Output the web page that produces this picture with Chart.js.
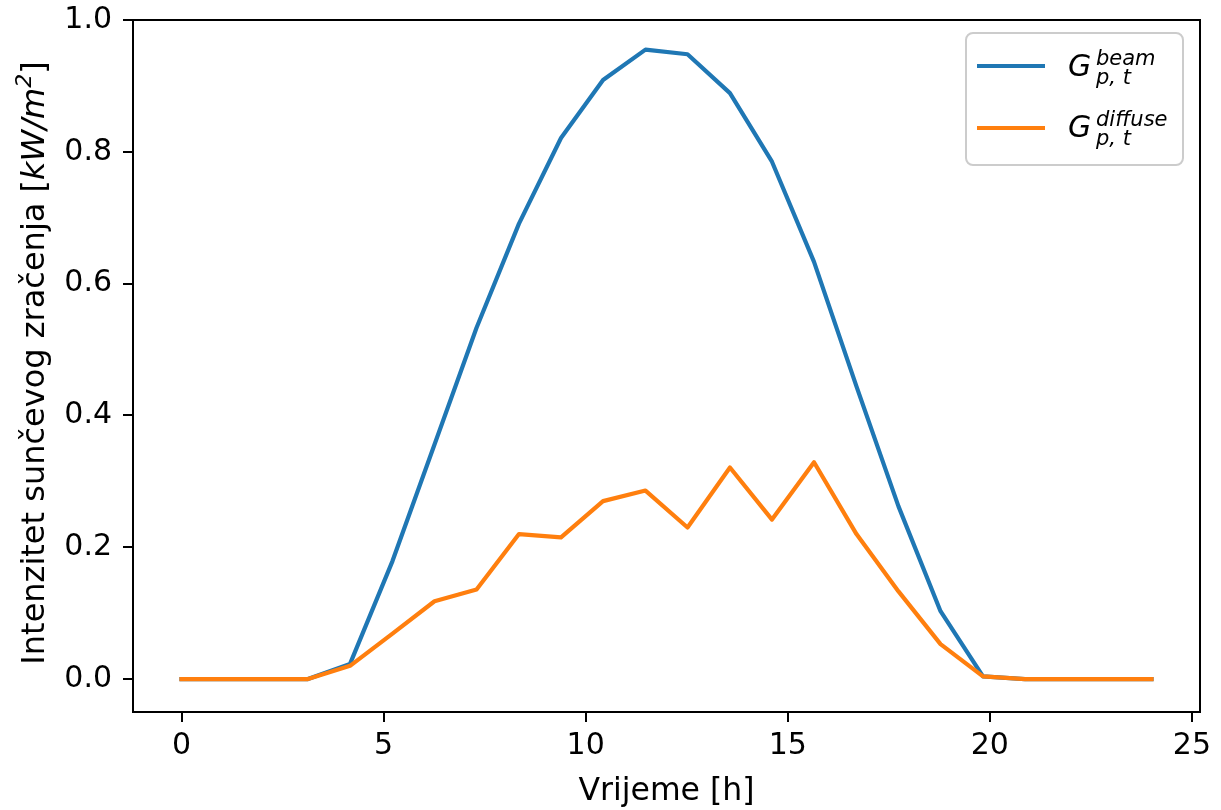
<!DOCTYPE html>
<html>
<head>
<meta charset="utf-8">
<script src="https://cdn.jsdelivr.net/npm/chart.js@4/dist/chart.umd.min.js"></script>
<style>
  body { margin: 0; background: #fff; }
  canvas { display: block; }
</style>
</head>
<body>
<canvas id="irradiance" width="1221" height="810"></canvas>
<script>
// hours of the day (24 samples from 0 to 24 h)
var hours = [0, 1.04, 2.09, 3.13, 4.17, 5.22, 6.26, 7.30, 8.35, 9.39, 10.43, 11.48,
             12.52, 13.57, 14.61, 15.65, 16.70, 17.74, 18.78, 19.83, 20.87, 21.91, 22.96, 24];
var beam = [0, 0, 0, 0, 0.023, 0.179, 0.356, 0.533, 0.691, 0.821, 0.909, 0.955,
            0.948, 0.889, 0.785, 0.633, 0.444, 0.262, 0.103, 0.004, 0, 0, 0, 0];
var diffuse = [0, 0, 0, 0, 0.020, 0.069, 0.118, 0.136, 0.220, 0.215, 0.270, 0.286,
               0.230, 0.321, 0.242, 0.329, 0.220, 0.133, 0.053, 0.004, 0, 0, 0, 0];
var xTicks = [0, 5, 10, 15, 20, 25];
var yTicks = [0, 0.2, 0.4, 0.6, 0.8, 1.0];

var FONT = "'DejaVu Sans', sans-serif";
var BLUE = '#1f77b4';
var ORANGE = '#ff7f0e';

function toPoints(ys) {
  return ys.map(function (y, i) { return { x: hours[i], y: y }; });
}

// mixed-style text pieces (for math-like labels)
function drawPieces(ctx, pieces, x, y) {
  pieces.forEach(function (p) {
    ctx.font = p.font;
    ctx.fillText(p.text, x, y + (p.dy || 0));
    x += ctx.measureText(p.text).width;
  });
  return x;
}

var decorations = {
  id: 'decorations',
  afterDraw: function (chart) {
    var ctx = chart.ctx;
    var area = chart.chartArea;
    ctx.save();

    // frame
    ctx.strokeStyle = '#000';
    ctx.lineWidth = 2;
    ctx.strokeRect(area.left, area.top, area.right - area.left, area.bottom - area.top);

    ctx.fillStyle = '#000';
    ctx.textBaseline = 'alphabetic';

    // x title
    ctx.font = '31.5px ' + FONT;
    ctx.textAlign = 'center';
    ctx.fillText('Vrijeme [h]', (area.left + area.right) / 2, 800);

    // y title (rotated, with italic unit and superscript)
    var reg = '32px ' + FONT;
    var ita = 'italic 32px ' + FONT;
    var sup = 'italic 22px ' + FONT;
    var pieces = [
      { text: 'Intenzitet sunčevog zračenja [', font: reg },
      { text: 'kW/m', font: ita },
      { text: '2', font: sup, dy: -13 },
      { text: ']', font: reg }
    ];
    var total = 0;
    pieces.forEach(function (p) { ctx.font = p.font; total += ctx.measureText(p.text).width; });
    ctx.translate(44, 363);
    ctx.rotate(-Math.PI / 2);
    ctx.textAlign = 'left';
    drawPieces(ctx, pieces, -total / 2, 0);
    ctx.restore();

    // legend
    ctx.save();
    var bx = 966, by = 33, bw = 217, bh = 132, r = 7;
    ctx.beginPath();
    ctx.moveTo(bx + r, by);
    ctx.arcTo(bx + bw, by, bx + bw, by + bh, r);
    ctx.arcTo(bx + bw, by + bh, bx, by + bh, r);
    ctx.arcTo(bx, by + bh, bx, by, r);
    ctx.arcTo(bx, by, bx + bw, by, r);
    ctx.closePath();
    ctx.fillStyle = 'rgba(255,255,255,0.8)';
    ctx.fill();
    ctx.strokeStyle = '#cccccc';
    ctx.lineWidth = 2;
    ctx.stroke();

    var entries = [
      { color: BLUE, sup: 'beam', lineY: 66, base: 76 },
      { color: ORANGE, sup: 'diffuse', lineY: 128, base: 137 }
    ];
    entries.forEach(function (e) {
      ctx.strokeStyle = e.color;
      ctx.lineWidth = 4.2;
      ctx.lineCap = 'butt';
      ctx.beginPath();
      ctx.moveTo(977, e.lineY);
      ctx.lineTo(1045, e.lineY);
      ctx.stroke();

      ctx.fillStyle = '#000';
      ctx.textAlign = 'left';
      ctx.font = 'italic 30px ' + FONT;
      ctx.fillText('G', 1068, e.base);
      ctx.font = 'italic 21px ' + FONT;
      ctx.fillText(e.sup, 1096, e.base - 11);
      ctx.fillText('p, t', 1096, e.base + 8);
    });
    ctx.restore();
  }
};

document.addEventListener('DOMContentLoaded', function () {
  var ctx = document.getElementById('irradiance').getContext('2d');
  new Chart(ctx, {
    type: 'line',
    data: {
      datasets: [{
        label: 'beam',
        data: toPoints(beam),
        borderColor: BLUE,
        borderWidth: 4.2,
        order: 1
      }, {
        label: 'diffuse',
        data: toPoints(diffuse),
        borderColor: ORANGE,
        borderWidth: 4.2,
        order: 0
      }]
    },
    options: {
      responsive: false,
      animation: false,
      events: [],
      layout: { padding: { left: 0, top: 20, right: 21, bottom: 0 } },
      elements: {
        point: { radius: 0 },
        line: { tension: 0, borderCapStyle: 'square', borderJoinStyle: 'round', fill: false }
      },
      plugins: {
        legend: { display: false },
        tooltip: { enabled: false }
      },
      scales: {
        x: {
          type: 'linear',
          min: -1.2,
          max: 25.2,
          border: { display: false },
          grid: { drawOnChartArea: false, drawTicks: true, tickLength: 10, color: '#000', lineWidth: 2 },
          ticks: {
            color: '#000',
            padding: 6,
            maxRotation: 0,
            font: { family: FONT, size: 30 },
            callback: function (v) { return String(v); }
          },
          afterBuildTicks: function (scale) {
            scale.ticks = xTicks.map(function (v) { return { value: v }; });
          },
          afterFit: function (scale) {
            scale.height = 98;
            scale.paddingLeft = 0;
            scale.paddingRight = 0;
          }
        },
        y: {
          type: 'linear',
          min: -0.05,
          max: 1.0,
          border: { display: false },
          grid: { drawOnChartArea: false, drawTicks: true, tickLength: 10, color: '#000', lineWidth: 2 },
          ticks: {
            color: '#000',
            padding: 11,
            font: { family: FONT, size: 30 },
            callback: function (v) { return v.toFixed(1); }
          },
          afterBuildTicks: function (scale) {
            scale.ticks = yTicks.map(function (v) { return { value: v }; });
          },
          afterFit: function (scale) {
            scale.width = 133;
            scale.paddingTop = 0;
            scale.paddingBottom = 0;
          }
        }
      }
    },
    plugins: [decorations]
  });
});
</script>
</body>
</html>
